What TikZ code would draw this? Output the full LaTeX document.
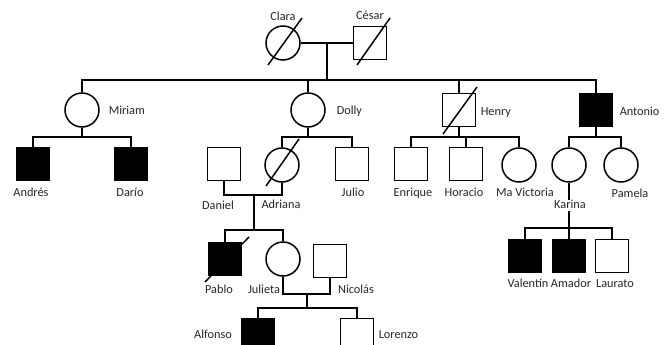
\documentclass[tikz,border=0pt]{standalone}
\usepackage{fontspec}
\setmainfont{Carlito}
\usetikzlibrary{calc}
\begin{document}
\begin{tikzpicture}[x=1pt,y=-1pt,line width=1.5pt,
  fem/.style={draw,circle,minimum size=34pt,inner sep=0pt,fill=white},
  mal/.style={draw,rectangle,minimum size=33pt,inner sep=0pt,fill=white},
  aff/.style={fill=black},
  lbl/.style={inner sep=0pt,text height=8.5pt,text depth=2.5pt,font=\fontsize{12.3}{14}\selectfont,text=black!85},
  slash/.style={line width=1.5pt}]
\useasboundingbox (0,0) rectangle (669,345);
\clip (0,0) rectangle (669,345);
% generation I
\node[fem] (clara) at (283,43) {};
\node[mal] (cesar) at (370,43) {};
% generation II
\node[fem] (miriam) at (82,110) {};
\node[fem] (dolly) at (308,110) {};
\node[mal] (henry) at (459,110) {};
\node[mal,aff] (antonio) at (596,110) {};
% generation III
\node[mal,aff] (andres) at (33,164) {};
\node[mal,aff] (dario) at (131,164) {};
\node[mal] (daniel) at (224,164) {};
\node[fem] (adriana) at (282,165) {};
\node[mal] (julio) at (352,164) {};
\node[mal] (enrique) at (411,164) {};
\node[mal] (horacio) at (466,164) {};
\node[fem] (mavictoria) at (519,165) {};
\node[fem] (karina) at (569,165) {};
\node[fem] (pamela) at (621,165) {};
% generation IV
\node[mal,aff] (pablo) at (225,259) {};
\node[fem] (julieta) at (283,259) {};
\node[mal] (nicolas) at (330,261) {};
\node[mal,aff] (valentin) at (525,256) {};
\node[mal,aff] (amador) at (569,256) {};
\node[mal] (laurato) at (612,256) {};
% generation V
\node[mal,aff] (alfonso) at (258,335) {};
\node[mal] (lorenzo) at (357,335) {};
% junction coordinates
\coordinate (cc) at (327,43);
\coordinate (sib) at (327,80);
\coordinate (mc) at (82,137);
\coordinate (dc) at (308,137);
\coordinate (hc) at (459,137);
\coordinate (ac) at (596,137);
\coordinate (da) at (254,195);
\coordinate (dac) at (254,230);
\coordinate (jn) at (307,294);
\coordinate (jnc) at (307,308);
\coordinate (kc) at (569,228);
% connectors
\draw (clara.east) -- (cesar.west);
\draw (cc) -- (sib);
\draw (miriam.north) |- (sib) -| (antonio.north);
\draw (dolly.north) -- (dolly.north |- sib);
\draw (henry.north) -- (henry.north |- sib);
\draw (andres.north) |- (mc) -| (dario.north);
\draw (miriam.south) -- (mc);
\draw (adriana.north) |- (dc) -| (julio.north);
\draw (dolly.south) -- (dc);
\draw (enrique.north) |- (hc) -| (mavictoria.north);
\draw (henry.south) -- (hc);
\draw (horacio.north) -- (horacio.north |- hc);
\draw (karina.north) |- (ac) -| (pamela.north);
\draw (antonio.south) -- (ac);
\draw (daniel.south) |- (da) -| (adriana.south);
\draw (da) -- (dac);
\draw (pablo.north) |- (dac) -| (julieta.north);
\draw (julieta.south) |- (jn) -| (nicolas.south);
\draw (jn) -- (jnc);
\draw (alfonso.north) |- (jnc) -| (lorenzo.north);
\draw (karina.south) -- (kc);
\draw (valentin.north) |- (kc) -| (laurato.north);
\draw (amador.north) -- (amador.north |- kc);
% deceased slashes
\draw[slash] ($(clara)+(-15,22)$) -- ($(clara)+(19,-25)$);
\draw[slash] ($(cesar)+(-13,22)$) -- ($(cesar)+(20,-25)$);
\draw[slash] ($(henry)+(-16,24)$) -- ($(henry)+(18,-23)$);
\draw[slash] ($(adriana)+(-16,21)$) -- ($(adriana)+(17,-26)$);
\draw[slash] ($(pablo)+(-20,23)$) -- ($(pablo)+(24,-22)$);
% labels
\node[lbl] (lclara) at (283,18) {Clara};
\node[lbl] (lcesar) at (370,17) {César};
\node[lbl,anchor=west] (lmiriam) at (108,111) {Miriam};
\node[lbl,anchor=west] (ldolly) at (336,111) {Dolly};
\node[lbl,anchor=west] (lhenry) at (480,112) {Henry};
\node[lbl,anchor=west] (lantonio) at (619,112) {Antonio};
\node[lbl] (landres) at (31,193) {Andrés};
\node[lbl] (ldario) at (130,193) {Darío};
\node[lbl] (ljulio) at (353,193) {Julio};
\node[lbl] (lenrique) at (413,193) {Enrique};
\node[lbl] (lhoracio) at (464,193) {Horacio};
\node[lbl] (lmavictoria) at (525,193) {Ma Victoria};
\node[lbl] (lpamela) at (630,194) {Pamela};
\node[lbl] (ldaniel) at (218,206) {Daniel};
\node[lbl] (ladriana) at (281,205) {Adriana};
\node[lbl,fill=white,inner xsep=2pt] (lkarina) at (570,205) {Karina};
\node[lbl] (lpablo) at (219,290) {Pablo};
\node[lbl] (ljulieta) at (264,290) {Julieta};
\node[lbl] (lnicolas) at (356,290) {Nicolás};
\node[lbl] (lvalentin) at (528,284) {Valentín};
\node[lbl] (lamador) at (571,284) {Amador};
\node[lbl] (llaurato) at (615,284) {Laurato};
\node[lbl] (lalfonso) at (213,335) {Alfonso};
\node[lbl,anchor=west] (llorenzo) at (378,335) {Lorenzo};
\end{tikzpicture}
\end{document}
